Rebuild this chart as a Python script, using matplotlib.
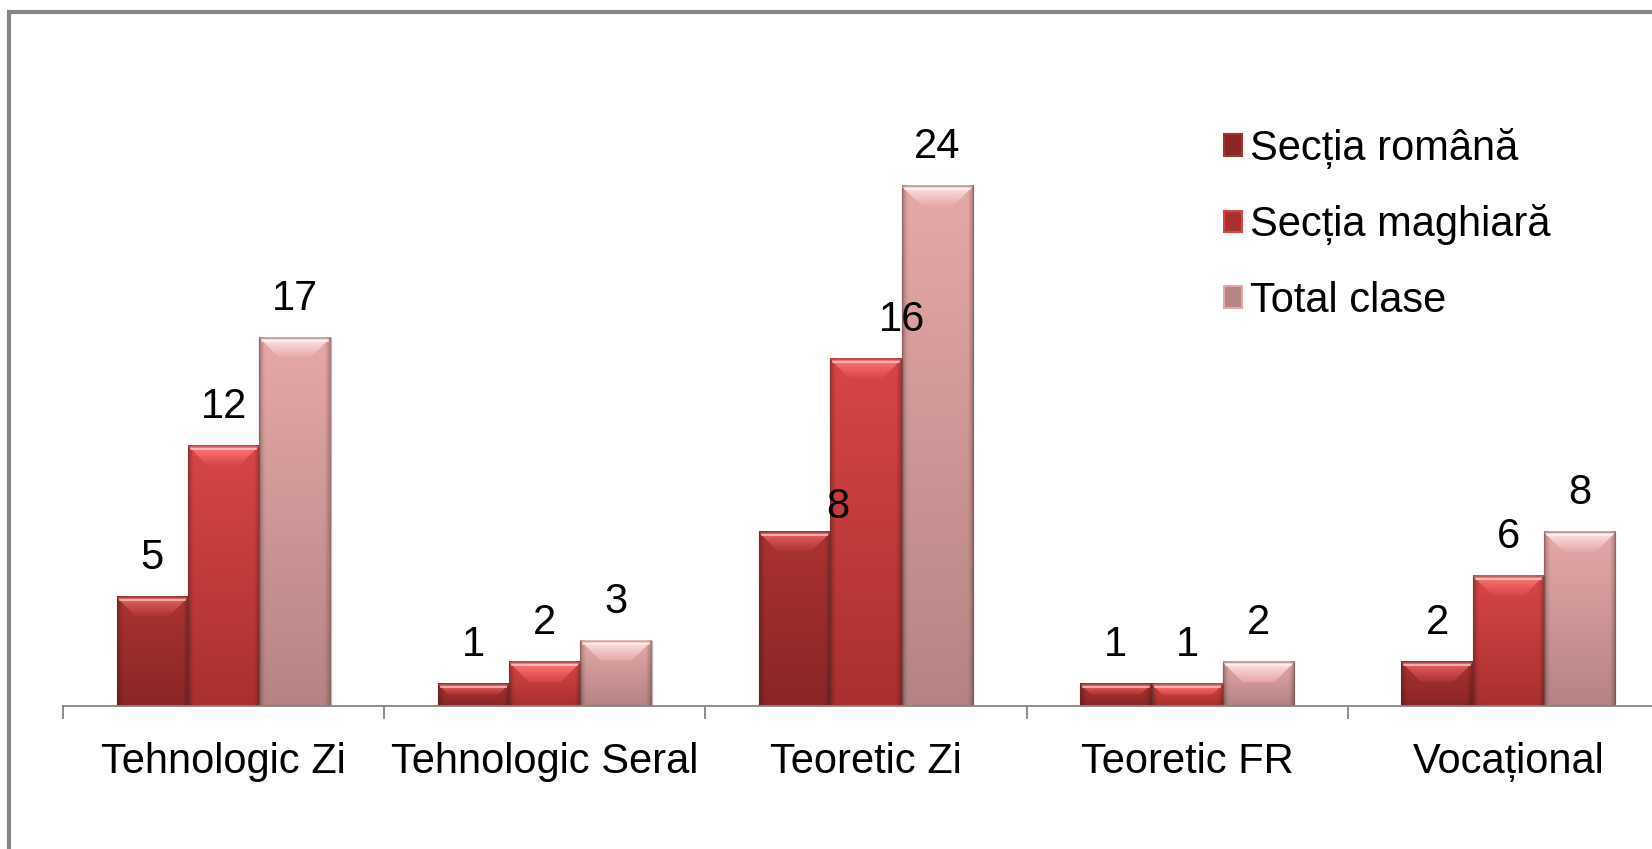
import numpy as np
import matplotlib
matplotlib.use("Agg")
import matplotlib.pyplot as plt
from matplotlib.patches import Rectangle, Polygon
from matplotlib.colors import to_rgb

plt.rcParams['font.family'] = ['Liberation Sans', 'DejaVu Sans']

# ---------------- data ----------------
categories = ["Tehnologic Zi", "Tehnologic Seral", "Teoretic Zi", "Teoretic FR", "Vocațional"]
series_names = ["Secția română", "Secția maghiară", "Total clase"]
sectia_romana = [5, 1, 8, 1, 2]
sectia_maghiara = [12, 2, 16, 1, 6]
total_clase = [17, 3, 24, 2, 8]

# ---------------- style ----------------
# (top colour, bottom colour, bevel highlight colour)
palette = [
    ("#AC3232", "#8A2626", "#E86464"),
    ("#D84646", "#AA3030", "#FF7878"),
    ("#E6A8A8", "#B68484", "#FFE6E6"),
]
FS = 30
W, H, DPI = 16.52, 8.49, 100

fig = plt.figure(figsize=(W, H), dpi=DPI)
fig.patch.set_facecolor("white")

# outer chart border (runs off the right / bottom edge like the reference)
fig.patches.append(Rectangle((8.5 / 1652, -0.05), 1.2, 1 - 12 / 849 + 0.05,
                             transform=fig.transFigure, fill=False,
                             edgecolor="#868686", linewidth=3.0, zorder=0))

cat_px = 321.2
ax_left = 63 / 1652
ax_w = 5 * cat_px / 1652
ax_bottom = (849 - 705.5) / 849
ymax = 26
px_per_unit = 21.64
ax_h = ymax * px_per_unit / 849
ax = fig.add_axes([ax_left, ax_bottom, ax_w, ax_h])
ax.set_facecolor("none")

x = np.arange(len(categories))
bw = 0.222
all_series = [sectia_romana, sectia_maghiara, total_clase]
containers = []
for i, vals in enumerate(all_series):
    c = ax.bar(x + (i - 1) * bw, vals, width=bw, color=palette[i][1],
               label=series_names[i], zorder=2, linewidth=0)
    containers.append(c)

ax.set_xlim(-0.5, len(categories) - 0.5)
ax.set_ylim(0, ymax)

# px -> data conversions
ux = 1.0 / cat_px       # data units per pixel (x)
uy = 1.0 / px_per_unit  # data units per pixel (y)


def grad_img(top, bot, n=64, m=32, edge_dark=0.0, edge_px=0.12):
    t = np.linspace(0, 1, n)[:, None, None]
    top = np.array(to_rgb(top))[None, None, :]
    bot = np.array(to_rgb(bot))[None, None, :]
    img = top * (1 - t) + bot * t
    img = np.repeat(img, m, axis=1)
    if edge_dark:
        s = np.linspace(0, 1, m)
        d = np.clip(1 - np.minimum(s, 1 - s) / edge_px, 0, 1) * edge_dark
        img = img * (1 - d[None, :, None])
    return np.clip(img, 0, 1)


for i, cont in enumerate(containers):
    top_c, bot_c, hi_c = palette[i]
    for p in cont:
        x0, w, h = p.get_x(), p.get_width(), p.get_height()
        x1 = x0 + w
        # body gradient with darker side edges
        ax.imshow(grad_img(top_c, bot_c, edge_dark=0.22, edge_px=0.07),
                  extent=(x0, x1, 0, h), aspect="auto", zorder=3,
                  interpolation="bilinear")
        # bevel
        bpx = min(20, h / uy * 0.5)
        by = bpx * uy
        bx = bpx * ux
        band = Polygon([(x0, h), (x1, h), (x1 - bx, h - by), (x0 + bx, h - by)],
                       closed=True, facecolor="none", edgecolor="none")
        ax.add_patch(band)
        im = ax.imshow(grad_img(hi_c, top_c, n=32, m=4),
                       extent=(x0, x1, h - by, h), aspect="auto", zorder=4,
                       interpolation="bilinear")
        im.set_clip_path(band)
        # thin white top highlight
        ax.plot([x0 + 2 * ux, x1 - 2 * ux], [h - 3 * uy, h - 3 * uy],
                color="white", alpha=0.5, lw=1.5, zorder=5,
                solid_capstyle="butt")
        # subtle outline
        ax.add_patch(Rectangle((x0, 0), w, h, fill=False,
                               edgecolor=(0.35, 0.2, 0.2, 0.35), lw=1.0, zorder=5))

ax.set_xlim(-0.5, len(categories) - 0.5)
ax.set_ylim(0, ymax)

# value labels
label_shift = {(2, 0): (43, -14), (2, 1): (36, 0)}  # pixel tweaks (Excel placement)
for i, cont in enumerate(containers):
    for j, p in enumerate(cont):
        dx, dy = label_shift.get((j, i), (0, 0))
        ax.annotate(str(all_series[i][j]),
                    xy=(p.get_x() + p.get_width() / 2, p.get_height()),
                    xytext=(dx * 0.72, (28 + dy) * 0.72), textcoords="offset points",
                    ha="center", va="baseline", fontsize=FS, color="black", zorder=6)

# axes styling
for s in ["top", "right", "left"]:
    ax.spines[s].set_visible(False)
ax.spines["bottom"].set_color("#868686")
ax.spines["bottom"].set_linewidth(1.3)
ax.spines["bottom"].set_zorder(6)
ax.set_yticks([])
ax.set_xticks(np.arange(-0.5, len(categories), 1.0))
ax.set_xticklabels([])
ax.tick_params(axis="x", which="major", length=9, width=1.3, color="#868686",
               direction="out")
ax.set_xticks(x, minor=True)
ax.set_xticklabels(categories, minor=True, fontsize=FS)
ax.tick_params(axis="x", which="minor", length=0, pad=26)

# legend
leg = ax.legend(loc="upper left", bbox_to_anchor=(1224 / 1652, 1 - 128 / 849),
                bbox_transform=fig.transFigure, frameon=False, fontsize=FS,
                handlelength=0.42, handleheight=0.42, handletextpad=0.2,
                labelspacing=0.85, borderpad=0, borderaxespad=0)
for hdl, (tc, bc, hc) in zip(leg.legend_handles, palette):
    hdl.set_facecolor(bc)
    hdl.set_edgecolor(tc)
    hdl.set_linewidth(1.5)

fig.savefig("out.png", dpi=DPI)
